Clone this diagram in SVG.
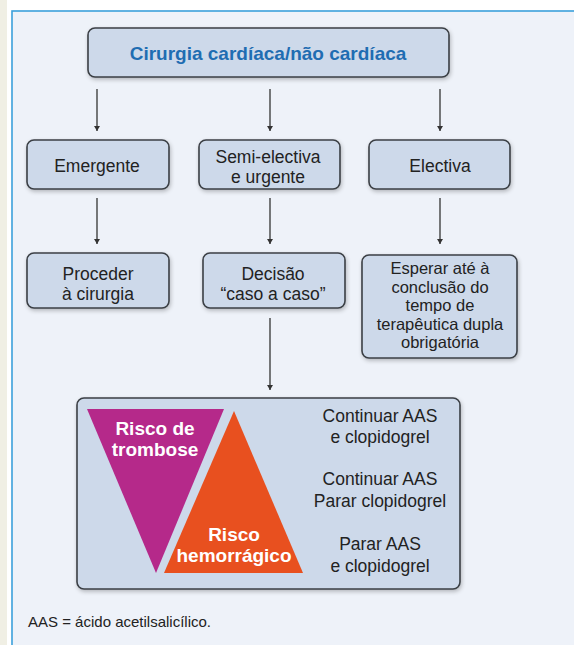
<svg xmlns="http://www.w3.org/2000/svg" width="574" height="645" viewBox="0 0 574 645">
<defs>
<style>
.box{fill:#cdd9ea;stroke:#3b3f45;stroke-width:1.6}
.t{font-family:"Liberation Sans",Arial,sans-serif;font-size:17.5px;fill:#222;text-anchor:middle}
.ts{font-family:"Liberation Sans",Arial,sans-serif;font-size:16.5px;fill:#222;text-anchor:middle}
.tb{font-family:"Liberation Sans",Arial,sans-serif;font-size:19px;font-weight:bold;fill:#fff;text-anchor:middle}
.conn{stroke:#333;stroke-width:1.3;fill:none;marker-end:url(#ah)}
</style>
<marker id="ah" viewBox="0 0 10 10" refX="10" refY="5" markerWidth="5" markerHeight="6" markerUnits="userSpaceOnUse" orient="auto" preserveAspectRatio="none">
<path d="M0,0 L10,5 L0,10 z" fill="#333"/>
</marker>
<filter id="sh" x="-10%" y="-10%" width="130%" height="140%">
<feGaussianBlur in="SourceAlpha" stdDeviation="2"/>
<feOffset dx="1" dy="2"/>
<feComponentTransfer><feFuncA type="linear" slope="0.25"/></feComponentTransfer>
<feMerge><feMergeNode/><feMergeNode in="SourceGraphic"/></feMerge>
</filter>
</defs>
<rect x="0" y="0" width="574" height="645" fill="#ffffff"/>
<rect x="0" y="0" width="7" height="645" fill="#f0efe4"/>
<rect x="12" y="11" width="570" height="640" fill="#eef2f9" stroke="#3ba0db" stroke-width="1.6"/>

<g id="connectors">
<line class="conn" x1="97" y1="89" x2="97" y2="131"/>
<line class="conn" x1="270" y1="89" x2="270" y2="131"/>
<line class="conn" x1="440" y1="89" x2="440" y2="131"/>
<line class="conn" x1="97" y1="198" x2="97" y2="244"/>
<line class="conn" x1="270" y1="198" x2="270" y2="244"/>
<line class="conn" x1="440" y1="198" x2="440" y2="244"/>
<line class="conn" x1="270" y1="318" x2="270" y2="390"/>
</g>

<g id="top">
<rect class="box" x="88" y="28" width="361" height="49" rx="7" filter="url(#sh)"/>
<text x="268" y="60" style="font-family:'Liberation Sans',Arial,sans-serif;font-size:19px;font-weight:bold;fill:#1f6db2;text-anchor:middle">Cirurgia cardíaca/não cardíaca</text>
</g>

<g id="emergente">
<rect class="box" x="27" y="140" width="142" height="49" rx="7" filter="url(#sh)"/>
<text class="t" x="97" y="172">Emergente</text>
</g>
<g id="semi">
<rect class="box" x="199" y="140" width="141" height="49" rx="7" filter="url(#sh)"/>
<text class="t" x="268" y="163">Semi-electiva</text>
<text class="t" x="268" y="183">e urgente</text>
</g>
<g id="electiva">
<rect class="box" x="369" y="140" width="141" height="49" rx="7" filter="url(#sh)"/>
<text class="t" x="440" y="172">Electiva</text>
</g>

<g id="proceder">
<rect class="box" x="27" y="253" width="142" height="55" rx="7" filter="url(#sh)"/>
<text class="t" x="98" y="280">Proceder</text>
<text class="t" x="98" y="300">à cirurgia</text>
</g>
<g id="decisao">
<rect class="box" x="203" y="253" width="142" height="55" rx="7" filter="url(#sh)"/>
<text class="t" x="273" y="280">Decisão</text>
<text class="t" x="273" y="300">“caso a caso”</text>
</g>
<g id="esperar">
<rect class="box" x="362" y="255" width="155" height="103" rx="7" filter="url(#sh)"/>
<text class="ts" x="440" y="274">Esperar até à</text>
<text class="ts" x="440" y="292.5">conclusão do</text>
<text class="ts" x="440" y="311">tempo de</text>
<text class="ts" x="440" y="329.5">terapêutica dupla</text>
<text class="ts" x="440" y="348">obrigatória</text>
</g>

<g id="risco">
<rect class="box" x="77" y="398" width="383" height="191" rx="7" filter="url(#sh)"/>
<polygon points="87,409 224,409 156,573" fill="#b5298a"/>
<polygon points="234,411 303,573 164,573" fill="#e8501f"/>
<text class="tb" x="155" y="435">Risco de</text>
<text class="tb" x="155" y="456">trombose</text>
<text class="tb" x="234" y="541">Risco</text>
<text class="tb" x="234" y="562">hemorrágico</text>
<text class="t" x="380" y="422">Continuar AAS</text>
<text class="t" x="380" y="443">e clopidogrel</text>
<text class="t" x="380" y="485">Continuar AAS</text>
<text class="t" x="380" y="507">Parar clopidogrel</text>
<text class="t" x="380" y="550">Parar AAS</text>
<text class="t" x="380" y="572">e clopidogrel</text>
</g>

<text x="28" y="627" style="font-family:'Liberation Sans',Arial,sans-serif;font-size:15px;fill:#222">AAS = ácido acetilsalicílico.</text>
</svg>
